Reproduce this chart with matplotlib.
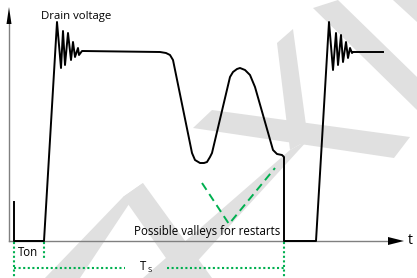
import matplotlib
matplotlib.use("Agg")
import matplotlib.pyplot as plt
from matplotlib.patches import Polygon

W, H = 417, 278

# Drain-voltage waveform (pixel-space schematic coordinates)
wave_x = [14, 14, 44, 57, 61, 63, 65, 68, 71, 73, 75, 78, 79, 82, 160, 166, 170, 173,
          192, 195, 200, 204, 207, 210, 212, 230, 233, 237, 240, 245, 250, 255,
          273, 277, 282, 284, 284, 316, 329, 333, 336, 338, 341, 343, 346, 348,
          350, 352, 353, 383]
wave_y = [202, 241, 241, 22, 68, 31, 65, 33, 60, 42, 57, 48, 55, 51, 52, 53, 55, 60,
          153, 160, 163, 163, 162, 157, 153, 77, 72, 69, 68, 70, 75, 87,
          150, 154, 155, 157, 241, 241, 22, 70, 33, 65, 35, 62, 42, 58,
          48, 53, 52, 52]

# Axes lines
yaxis_x = [9, 9]
yaxis_y = [241, 20]
xaxis_x = [9, 392]
xaxis_y = [241, 241]
yarrow = [(9, 7), (6.5, 24), (11.5, 24)]
xarrow = [(404, 241), (388, 237), (388, 245)]

# Valley markers (green dashed V)
vee_x = [202, 229, 275]
vee_y = [183, 224, 168]

# Timing markers (green dotted)
dot_segments = [
    ([14, 14], [242, 278]),
    ([44, 44], [242, 258]),
    ([284, 284], [242, 278]),
    ([14, 125], [268, 268]),
    ([167, 284], [268, 268]),
]

# Watermark polygons
watermark = [
    [(313, 8), (338, 0), (417, 77), (417, 110)],
    [(393, 0), (417, 0), (417, 22)],
    [(277, 43), (293, 29), (308, 140), (290, 150)],
    [(212, 110), (410, 137), (394, 158), (193, 128)],
    [(290, 150), (308, 140), (182, 278), (143, 278)],
    [(123, 197), (143, 183), (212, 278), (180, 278)],
    [(123, 197), (143, 183), (80, 278), (45, 278)],
]

GREEN = "#00b050"
GRAY_WM = "#e0e0e0"

fig = plt.figure(figsize=(W / 100, H / 100), dpi=100)
ax = fig.add_axes([0, 0, 1, 1])
ax.set_xlim(0, W)
ax.set_ylim(H, 0)
ax.axis("off")

for poly in watermark:
    ax.add_patch(Polygon(poly, closed=True, facecolor=GRAY_WM, edgecolor="none", zorder=0))

ax.plot(yaxis_x, yaxis_y, color="#808080", lw=1.0, zorder=2)
ax.plot(xaxis_x, xaxis_y, color="#808080", lw=1.0, zorder=2)
ax.add_patch(Polygon(yarrow, closed=True, facecolor="black", edgecolor="none", zorder=3))
ax.add_patch(Polygon(xarrow, closed=True, facecolor="black", edgecolor="none", zorder=3))

ax.plot(wave_x, wave_y, color="black", lw=1.4, solid_joinstyle="round", zorder=4)

ax.plot(vee_x, vee_y, color=GREEN, lw=1.4, linestyle=(0, (4.2, 2.6)), zorder=3)

for xs, ys in dot_segments:
    ax.plot(xs, ys, color=GREEN, lw=1.5, linestyle=(0, (1, 1.2)), zorder=3)

font = "Open Sans"
ax.text(41, 16, "Drain voltage", fontsize=8.2, family=font, va="center", ha="left", zorder=5)
ax.text(280, 232, "Possible valleys for restarts", fontsize=8.3, family=font,
        va="center", ha="right", zorder=5)
ax.text(18, 253, "Ton", fontsize=8.3, family=font, va="center", ha="left", zorder=5)
ax.text(140, 266, "T", fontsize=8.3, family=font, va="center", ha="left", zorder=5)
ax.text(148, 270, "S", fontsize=5.5, family=font, va="center", ha="left", zorder=5)
ax.text(408, 241, "t", fontsize=10, family=font, va="center", ha="left", zorder=5)

fig.savefig("out.png", dpi=100)
